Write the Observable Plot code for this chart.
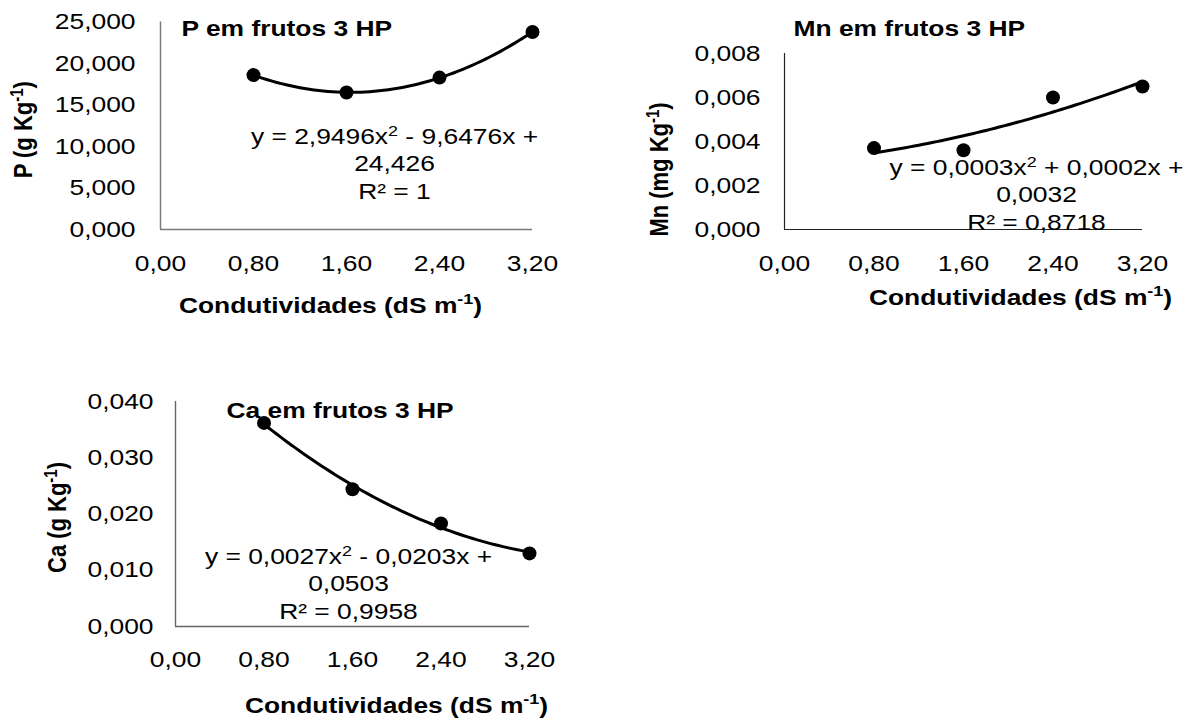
<!DOCTYPE html>
<html>
<head>
<meta charset="utf-8">
<script src="https://cdn.jsdelivr.net/npm/d3@7"></script>
<script src="https://cdn.jsdelivr.net/npm/@observablehq/plot@0.6"></script>
<style>
  body { margin: 0; background: #fff; }
  #page { position: relative; width: 1194px; height: 722px; overflow: hidden; background: #fff; }
  .panel { position: absolute; }
</style>
</head>
<body>
<div id="page"></div>
<script>
// ---- data ----
const conductivity = [0.8, 1.6, 2.4, 3.2];            // dS m-1
const pValues  = [18.6, 16.5, 18.3, 23.8];              // g Kg-1
const mnValues = [0.0037, 0.0036, 0.0060, 0.0065];      // mg Kg-1
const caValues = [0.0362, 0.0244, 0.0183, 0.0130];      // g Kg-1

const xTicks  = [0, 0.8, 1.6, 2.4, 3.2];
const pTicks  = [0, 5, 10, 15, 20, 25];
const mnTicks = [0, 0.002, 0.004, 0.006, 0.008];
const caTicks = [0, 0.01, 0.02, 0.03, 0.04];

const titles  = ["P em frutos 3 HP", "Mn em frutos 3 HP", "Ca em frutos 3 HP"];
const yLabels = ["P (g Kg^{-1})", "Mn (mg Kg^{-1})", "Ca (g Kg^{-1})"];
const xLabel  = "Condutividades (dS m^{-1})";
const equations = [
  "y = 2,9496x^{2} - 9,6476x +\n24,426\nR² = 1",
  "y = 0,0003x^{2} + 0,0002x +\n0,0032\nR² = 0,8718",
  "y = 0,0027x^{2} - 0,0203x +\n0,0503\nR² = 0,9958"
];

const FONT = '"Liberation Sans", Arial, sans-serif';
const comma = (spec) => (d) => d3.format(spec)(d).replace(".", ",");

// least-squares quadratic trend line (as in the chart's polynomial trendline)
function quadFit(xs, ys) {
  const S = [0, 0, 0, 0, 0], T = [0, 0, 0];
  xs.forEach((x, i) => {
    for (let k = 0; k < 5; k++) S[k] += x ** k;
    for (let k = 0; k < 3; k++) T[k] += ys[i] * x ** k;
  });
  const A = [[S[0], S[1], S[2]], [S[1], S[2], S[3]], [S[2], S[3], S[4]]];
  const det = m => m[0][0] * (m[1][1] * m[2][2] - m[1][2] * m[2][1])
                 - m[0][1] * (m[1][0] * m[2][2] - m[1][2] * m[2][0])
                 + m[0][2] * (m[1][0] * m[2][1] - m[1][1] * m[2][0]);
  const D = det(A);
  const c = [0, 1, 2].map(j => det(A.map((row, r) => row.map((v, col) => col === j ? T[r] : v))) / D);
  return x => c[0] + c[1] * x + c[2] * x * x;
}

function applySup(svg) {
  svg.querySelectorAll("text, tspan").forEach(node => {
    if (node.children.length) return;
    const s = node.textContent;
    if (!s.includes("^{")) return;
    node.textContent = "";
    s.split(/\^\{([^}]*)\}/).forEach((p, i) => {
      if (!p) return;
      if (i % 2 === 0) node.appendChild(document.createTextNode(p));
      else {
        const t = document.createElementNS("http://www.w3.org/2000/svg", "tspan");
        t.setAttribute("baseline-shift", "super");
        t.setAttribute("font-size", "68%");
        t.textContent = p;
        node.appendChild(t);
      }
    });
  });
}

// the reference's text is horizontally widened; reproduce that on text only
function stretch(svg, k) {
  svg.querySelectorAll("text").forEach(t => {
    const b = t.getBBox();
    const m = t.getCTM();
    const prev = t.getAttribute("transform") || "";
    if (Math.abs(m.b) > 0.5) {
      const cy = b.y + b.height / 2;
      t.setAttribute("transform", `${prev} translate(0,${cy}) scale(1,${k}) translate(0,${-cy})`);
    } else {
      const a = getComputedStyle(t).textAnchor;
      const cx = a === "end" ? b.x + b.width : a === "middle" ? b.x + b.width / 2 : b.x;
      t.setAttribute("transform", `${prev} translate(${cx},0) scale(${k},1) translate(${-cx},0)`);
    }
  });
}

function panel(o) {
  const f = quadFit(conductivity, o.values);
  const x0 = d3.min(conductivity), x1 = d3.max(conductivity);
  const trend = d3.range(0, 61).map(i => { const x = x0 + (x1 - x0) * i / 60; return {x, y: f(x)}; });
  const chart = Plot.plot({
    width: o.width, height: o.height,
    marginLeft: o.frame.l, marginRight: o.width - o.frame.r,
    marginTop: o.frame.t, marginBottom: o.height - o.frame.b,
    x: {domain: [0, 3.2]},
    y: {domain: [0, d3.max(o.ticks)]},
    style: {background: "transparent", fontFamily: FONT, fontSize: "22px", color: "#000", overflow: "visible"},
    marks: [
      Plot.axisX({ticks: xTicks, tickFormat: comma(".2f"), tickSize: 0, tickPadding: o.xPad, label: null, fontSize: 22}),
      Plot.axisY({ticks: o.ticks, tickFormat: comma(o.fmt), tickSize: 0, tickPadding: o.yPad, label: null, fontSize: 22}),
      Plot.ruleX([0], {stroke: o.axisColor, strokeWidth: o.axisWidth}),
      Plot.ruleY([0], {stroke: o.axisColor, strokeWidth: o.axisWidth}),
      Plot.line(trend, {x: "x", y: "y", stroke: "#000", strokeWidth: 3}),
      Plot.dot(o.values, {x: conductivity, y: o.values, r: 7, fill: "#000"}),
      Plot.text([o.title], {frameAnchor: "top-left", textAnchor: "start", lineAnchor: "middle",
        dx: o.titleOff[0], dy: o.titleOff[1], fontWeight: "bold", fontSize: 22, fill: "#000"}),
      Plot.text([o.eq], {frameAnchor: "top-left", textAnchor: "middle", lineAnchor: "middle", lineHeight: 1.25,
        dx: o.eqOff[0], dy: o.eqOff[1], fontSize: 22, fill: "#000"}),
      Plot.text([xLabel], {frameAnchor: "bottom", textAnchor: "middle", lineAnchor: "middle",
        dx: o.xLabOff[0], dy: o.xLabOff[1], fontWeight: "bold", fontSize: 22, fill: "#000"}),
      Plot.text([o.yLabel], {frameAnchor: "left", textAnchor: "middle", lineAnchor: "middle", rotate: -90,
        dx: o.yLabOff[0], dy: o.yLabOff[1], fontWeight: "bold", fontSize: 22, fill: "#000"})
    ]
  });
  const div = document.createElement("div");
  div.className = "panel";
  div.style.left = o.left + "px";
  div.style.top = o.top + "px";
  div.appendChild(chart);
  document.getElementById("page").appendChild(div);
  applySup(chart);
  stretch(chart, 1.2);
}

panel({
  left: 0, top: 0, width: 590, height: 330,
  frame: {l: 160, r: 532, t: 21.5, b: 229},
  values: pValues, ticks: pTicks, fmt: ".3f",
  title: titles[0], yLabel: yLabels[0], eq: equations[0],
  titleOff: [21, 6.5], eqOff: [234, 140.5], xLabOff: [-16, 76], yLabOff: [-137, 4],
  xPad: 26, yPad: 25, axisColor: "#7a7a7a", axisWidth: 1.5
});
panel({
  left: 597, top: 0, width: 597, height: 330,
  frame: {l: 187, r: 545, t: 53, b: 229},
  values: mnValues, ticks: mnTicks, fmt: ".3f",
  title: titles[1], yLabel: yLabels[1], eq: equations[1],
  titleOff: [9, -25], eqOff: [252, 140], xLabOff: [57, 68], yLabOff: [-125, 28],
  xPad: 26, yPad: 24, axisColor: "#222", axisWidth: 1.2
});
panel({
  left: 0, top: 380, width: 590, height: 342,
  frame: {l: 175, r: 529, t: 21, b: 246},
  values: caValues, ticks: caTicks, fmt: ".3f",
  title: titles[2], yLabel: yLabels[2], eq: equations[2],
  titleOff: [51, 9], eqOff: [173, 181], xLabOff: [44, 79], yLabOff: [-118, 3.5],
  xPad: 25, yPad: 22, axisColor: "#666", axisWidth: 1.4
});
</script>
</body>
</html>
